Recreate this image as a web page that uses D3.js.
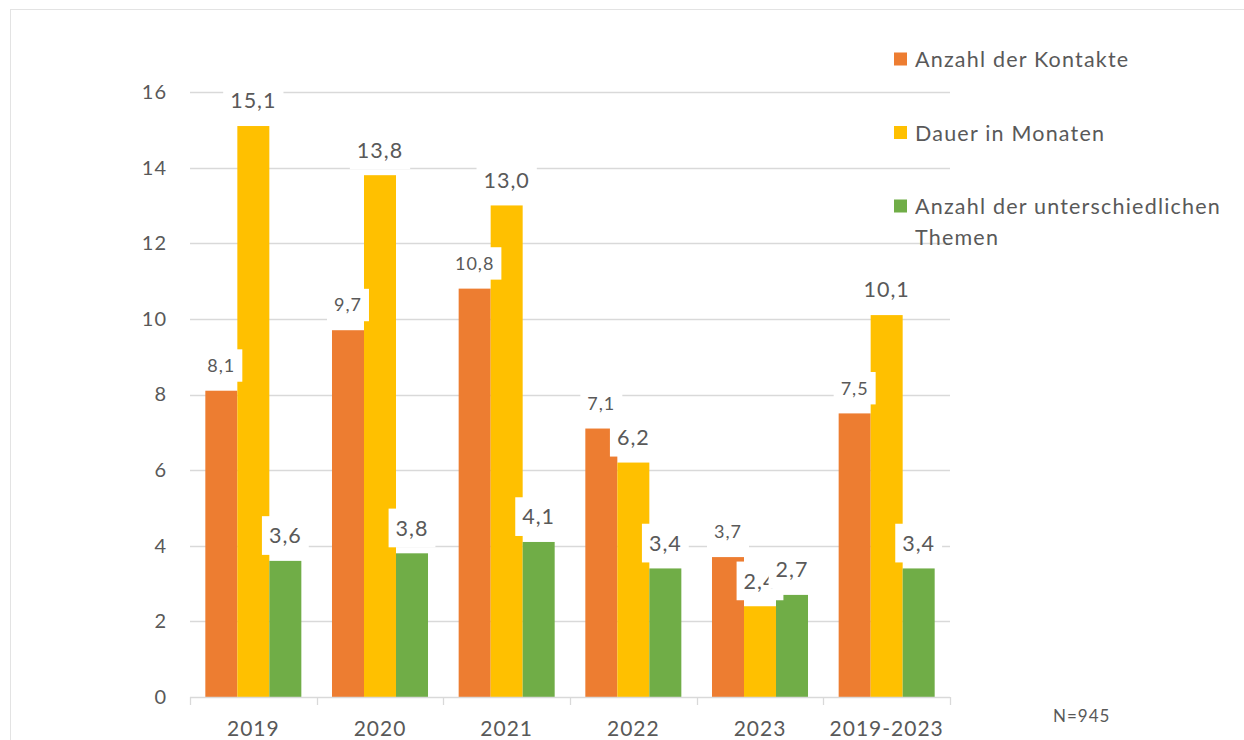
<!DOCTYPE html>
<html>
<head>
<meta charset="utf-8">
<script src="https://cdn.jsdelivr.net/npm/d3@7"></script>
<style>
  body { margin: 0; background: #fff; }
  text { font-family: Lato, "Open Sans", sans-serif; fill: #595959; }
</style>
</head>
<body>
<script>
//Data
const categories = ["2019", "2020", "2021", "2022", "2023", "2019-2023"];
const seriesNames = ["Anzahl der Kontakte", "Dauer in Monaten", "Anzahl der unterschiedlichen Themen"];
const kontakte = [8.1, 9.7, 10.8, 7.1, 3.7, 7.5];
const dauer = [15.1, 13.8, 13.0, 6.2, 2.4, 10.1];
const themen = [3.6, 3.8, 4.1, 3.4, 2.7, 3.4];
const yTicks = [0, 2, 4, 6, 8, 10, 12, 14, 16];
const legendLines = [["Anzahl der Kontakte"], ["Dauer in Monaten"], ["Anzahl der unterschiedlichen", "Themen"]];
const note = "N=945";

//Variables
const width = 1244;
const height = 740;
const colors = ["#ED7D31", "#FFC000", "#70AD47"];
const labelSize = [18, 21.5, 21.5];
const labelGap = [9, 6, 6];
const values = [kontakte, dauer, themen];

const svg = d3.select("body")
    .append("svg")
    .attr("width", width)
    .attr("height", height);

//Frame
svg.append("rect")
    .attr("x", 10.5)
    .attr("y", 9.5)
    .attr("width", 1400)
    .attr("height", 900)
    .attr("fill", "none")
    .attr("stroke", "#E3E3E3");

//Scales
const xScale = d3.scaleBand()
    .domain(categories)
    .range([190, 950])
    .paddingInner(0.242)
    .paddingOuter(0.121);

const xInner = d3.scaleBand()
    .domain(d3.range(seriesNames.length))
    .range([0, xScale.bandwidth()]);

const yScale = d3.scaleLinear()
    .domain([0, 16])
    .range([697, 92]);

//Grid
svg.append("g")
    .selectAll("line")
    .data(yTicks.filter(d => d > 0))
    .enter()
    .append("line")
    .attr("x1", 190)
    .attr("x2", 950)
    .attr("y1", d => Math.round(yScale(d)) + 0.5)
    .attr("y2", d => Math.round(yScale(d)) + 0.5)
    .attr("stroke", "#D9D9D9")
    .attr("stroke-width", 1.3);

//y axis labels
const yAxis = d3.axisLeft(yScale)
    .tickValues(yTicks)
    .tickSize(0)
    .tickPadding(23);

svg.append("g")
    .attr("transform", "translate(190,0)")
    .call(yAxis)
    .call(g => g.select(".domain").remove())
    .selectAll("text")
    .style("font-size", "20px")
    .style("letter-spacing", "1px")
    .attr("fill", "#595959");

//Bars
const rows = [];
values.forEach((vals, s) => vals.forEach((v, i) => rows.push({ s: s, cat: categories[i], v: v })));

svg.append("g")
    .selectAll("rect")
    .data(rows)
    .enter()
    .append("rect")
    .attr("x", d => xScale(d.cat) + xInner(d.s))
    .attr("y", d => yScale(d.v))
    .attr("width", xInner.bandwidth())
    .attr("height", d => yScale(0) - yScale(d.v))
    .attr("fill", d => colors[d.s]);

//x axis
const step = xScale.step();
const bounds = d3.range(categories.length + 1).map(i => xScale(categories[0]) - step * xScale.paddingOuter() + i * step);

const xg = svg.append("g");
xg.append("line")
    .attr("x1", bounds[0])
    .attr("x2", bounds[bounds.length - 1])
    .attr("y1", 697.5)
    .attr("y2", 697.5)
    .attr("stroke", "#D9D9D9")
    .attr("stroke-width", 1.3);
xg.selectAll(".tick")
    .data(bounds)
    .enter()
    .append("line")
    .attr("x1", d => Math.round(d) + 0.5)
    .attr("x2", d => Math.round(d) + 0.5)
    .attr("y1", 697)
    .attr("y2", 705)
    .attr("stroke", "#D9D9D9")
    .attr("stroke-width", 1.3);
xg.selectAll("text")
    .data(categories)
    .enter()
    .append("text")
    .attr("x", d => xScale(d) + xScale.bandwidth() / 2)
    .attr("y", 736)
    .attr("text-anchor", "middle")
    .style("font-size", "21px")
    .style("letter-spacing", "1px")
    .text(d => d);

//Data labels (white boxes, drawn series by series)
const fmt = v => d3.format(".1f")(v).replace(".", ",");
values.forEach((vals, s) => {
    const g = svg.append("g");
    vals.forEach((v, i) => {
        const cx = xScale(categories[i]) + xInner(s) + xInner.bandwidth() / 2;
        const fs = labelSize[s];
        const boxH = fs * 1.8;
        const bottom = yScale(v) - labelGap[s];
        const lg = g.append("g");
        const box = lg.append("rect").attr("fill", "#fff");
        const t = lg.append("text")
            .attr("x", cx)
            .attr("y", bottom - boxH / 2)
            .attr("dy", "0.36em")
            .attr("text-anchor", "middle")
            .style("font-size", fs + "px")
            .style("letter-spacing", "1px")
            .text(fmt(v));
        const w = t.node().getComputedTextLength() + 14;
        box.attr("x", cx - w / 2)
            .attr("y", bottom - boxH)
            .attr("width", w)
            .attr("height", boxH);
    });
});

//Legend
const legend = svg.append("g")
    .selectAll("g")
    .data(seriesNames)
    .enter()
    .append("g")
    .attr("transform", (d, i) => `translate(894, ${59 + i * 73.5})`);

legend.append("rect")
    .attr("x", 0)
    .attr("y", -6.5)
    .attr("width", 13)
    .attr("height", 13)
    .attr("fill", (d, i) => colors[i]);

legend.append("text")
    .attr("x", 21)
    .attr("y", 8)
    .style("font-size", "21.5px")
    .style("letter-spacing", "1.2px")
    .selectAll("tspan")
    .data((d, i) => legendLines[i])
    .enter()
    .append("tspan")
    .attr("x", 21)
    .attr("dy", (d, j) => j === 0 ? 0 : 31)
    .text(d => d);

//Note
svg.append("text")
    .attr("x", 1053)
    .attr("y", 722)
    .style("font-size", "17px")
    .style("letter-spacing", "1px")
    .text(note);
</script>
</body>
</html>
